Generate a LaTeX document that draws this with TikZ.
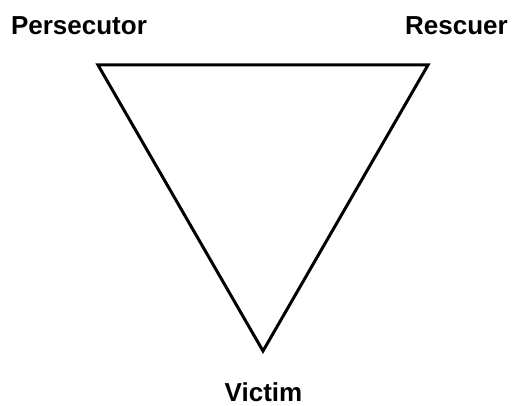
\documentclass[tikz,border=0pt]{standalone}
\usepackage{fontspec}
\setmainfont{Liberation Sans}
\tikzset{lbl/.style={anchor=base, inner sep=0pt, font=\fontsize{26}{30}\selectfont\bfseries}}
\begin{document}
\begin{tikzpicture}[x=1pt,y=-1pt]
\useasboundingbox (0,0) rectangle (512,406);
\coordinate (P) at (98,65);
\coordinate (R) at (428,65);
\coordinate (V) at (263,351);
\draw[line width=3pt, line join=miter] (P) -- (R) -- (V) -- cycle;
\node[lbl] (tp) at (79,35) {Persecutor};
\node[lbl] (tr) at (456.5,35) {Rescuer};
\node[lbl] (tv) at (263.5,402) {Victim};
\end{tikzpicture}
\end{document}
